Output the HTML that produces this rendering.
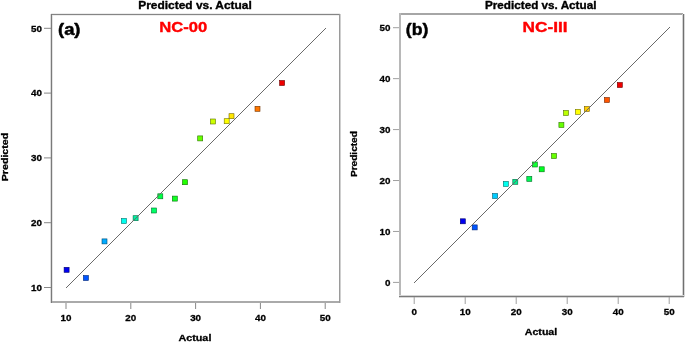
<!DOCTYPE html>
<html><head><meta charset="utf-8"><style>
html,body{margin:0;padding:0;background:#fff;}
body{width:685px;height:342px;overflow:hidden;}
svg{display:block;will-change:transform;}
text{font-family:"Liberation Sans", sans-serif;font-weight:bold;}
.t{font-size:11px;}
.n{font-size:9.8px;fill:#000;stroke:#000;stroke-width:0.3px;}
.a{font-size:10px;}
.lab{font-size:17px;}
.nc{font-size:15px;fill:#ff0000;}
</style></head><body>
<svg width="685" height="342" viewBox="0 0 685 342">
<rect width="685" height="342" fill="#fff"/>
<rect x="51" y="13" width="289" height="1" fill="#ececec"/>
<rect x="51" y="14" width="289" height="1" fill="#858585"/>
<rect x="51" y="15" width="289" height="1" fill="#eeeeee"/>
<rect x="51" y="301" width="290" height="2" fill="#aaaaaa"/>
<rect x="50" y="14" width="1" height="289" fill="#dddddd"/>
<rect x="51" y="14" width="1" height="289" fill="#7a7a7a"/>
<rect x="52" y="15" width="1" height="286" fill="#e4e4e4"/>
<rect x="339" y="14" width="1" height="289" fill="#9a9a9a"/>
<rect x="340" y="14" width="1" height="289" fill="#cfcfcf"/>
<rect x="44" y="287.00" width="7" height="1" fill="#888888"/>
<rect x="65.50" y="303" width="1" height="6" fill="#888888"/>
<text x="42" y="290.80" text-anchor="end" class="n">10</text>
<text x="66.00" y="320.5" text-anchor="middle" class="n">10</text>
<rect x="44" y="222.20" width="7" height="1" fill="#888888"/>
<rect x="130.30" y="303" width="1" height="6" fill="#888888"/>
<text x="42" y="226.00" text-anchor="end" class="n">20</text>
<text x="130.80" y="320.5" text-anchor="middle" class="n">20</text>
<rect x="44" y="157.40" width="7" height="1" fill="#888888"/>
<rect x="195.10" y="303" width="1" height="6" fill="#888888"/>
<text x="42" y="161.20" text-anchor="end" class="n">30</text>
<text x="195.60" y="320.5" text-anchor="middle" class="n">30</text>
<rect x="44" y="92.60" width="7" height="1" fill="#888888"/>
<rect x="259.90" y="303" width="1" height="6" fill="#888888"/>
<text x="42" y="96.40" text-anchor="end" class="n">40</text>
<text x="260.40" y="320.5" text-anchor="middle" class="n">40</text>
<rect x="44" y="27.80" width="7" height="1" fill="#888888"/>
<rect x="324.70" y="303" width="1" height="6" fill="#888888"/>
<text x="42" y="31.60" text-anchor="end" class="n">50</text>
<text x="325.20" y="320.5" text-anchor="middle" class="n">50</text>
<rect x="64.10" y="267.30" width="5.0" height="5.0" fill="#0000f0" stroke="#00006c" stroke-width="0.6"/>
<rect x="83.40" y="275.50" width="5.0" height="5.0" fill="#0055ff" stroke="#002672" stroke-width="0.6"/>
<rect x="102.00" y="238.90" width="5.0" height="5.0" fill="#00aaff" stroke="#004c72" stroke-width="0.6"/>
<rect x="121.40" y="218.50" width="5.0" height="5.0" fill="#00ffee" stroke="#00726b" stroke-width="0.6"/>
<rect x="133.10" y="215.70" width="5.0" height="5.0" fill="#00f0a0" stroke="#006c48" stroke-width="0.6"/>
<rect x="151.50" y="208.00" width="5.0" height="5.0" fill="#00ff66" stroke="#00722d" stroke-width="0.6"/>
<rect x="157.80" y="193.80" width="5.0" height="5.0" fill="#00ff44" stroke="#00721e" stroke-width="0.6"/>
<rect x="172.30" y="196.10" width="5.0" height="5.0" fill="#11ff22" stroke="#07720f" stroke-width="0.6"/>
<rect x="182.50" y="179.70" width="5.0" height="5.0" fill="#22ff00" stroke="#0f7200" stroke-width="0.6"/>
<rect x="197.70" y="135.90" width="5.0" height="5.0" fill="#66ff00" stroke="#2d7200" stroke-width="0.6"/>
<rect x="210.50" y="119.00" width="5.0" height="5.0" fill="#ccff00" stroke="#5b7200" stroke-width="0.6"/>
<rect x="224.20" y="118.70" width="5.0" height="5.0" fill="#ffff00" stroke="#727200" stroke-width="0.6"/>
<rect x="229.00" y="113.70" width="5.0" height="5.0" fill="#ffe600" stroke="#726700" stroke-width="0.6"/>
<rect x="255.00" y="106.30" width="5.0" height="5.0" fill="#ff7700" stroke="#723500" stroke-width="0.6"/>
<rect x="279.60" y="80.50" width="5.0" height="5.0" fill="#ee0000" stroke="#6b0000" stroke-width="0.6"/>
<path d="M66 287h1v1h-1zM67 286h1v1h-1zM68 285h1v1h-1zM69 284h1v1h-1zM70 283h1v1h-1zM71 282h1v1h-1zM72 281h1v1h-1zM73 280h1v1h-1zM74 279h1v1h-1zM75 278h1v1h-1zM76 277h1v1h-1zM77 276h1v1h-1zM78 275h1v1h-1zM79 274h1v1h-1zM80 273h1v1h-1zM81 272h1v1h-1zM82 271h1v1h-1zM83 270h1v1h-1zM84 269h1v1h-1zM85 268h1v1h-1zM86 267h1v1h-1zM87 266h1v1h-1zM88 265h1v1h-1zM89 264h1v1h-1zM90 263h1v1h-1zM91 262h1v1h-1zM92 261h1v1h-1zM93 260h1v1h-1zM94 259h1v1h-1zM95 258h1v1h-1zM96 257h1v1h-1zM97 256h1v1h-1zM98 255h1v1h-1zM99 254h1v1h-1zM100 253h1v1h-1zM101 252h1v1h-1zM102 251h1v1h-1zM103 250h1v1h-1zM104 249h1v1h-1zM105 248h1v1h-1zM106 247h1v1h-1zM107 246h1v1h-1zM108 245h1v1h-1zM109 244h1v1h-1zM110 243h1v1h-1zM111 242h1v1h-1zM112 241h1v1h-1zM113 240h1v1h-1zM114 239h1v1h-1zM115 238h1v1h-1zM116 237h1v1h-1zM117 236h1v1h-1zM118 235h1v1h-1zM119 234h1v1h-1zM120 233h1v1h-1zM121 232h1v1h-1zM122 231h1v1h-1zM123 230h1v1h-1zM124 229h1v1h-1zM125 228h1v1h-1zM126 227h1v1h-1zM127 226h1v1h-1zM128 225h1v1h-1zM129 224h1v1h-1zM130 223h1v1h-1zM131 222h1v1h-1zM132 221h1v1h-1zM133 220h1v1h-1zM134 219h1v1h-1zM135 218h1v1h-1zM136 217h1v1h-1zM137 216h1v1h-1zM138 215h1v1h-1zM139 214h1v1h-1zM140 213h1v1h-1zM141 212h1v1h-1zM142 211h1v1h-1zM143 210h1v1h-1zM144 209h1v1h-1zM145 208h1v1h-1zM146 207h1v1h-1zM147 206h1v1h-1zM148 205h1v1h-1zM149 204h1v1h-1zM150 203h1v1h-1zM151 202h1v1h-1zM152 201h1v1h-1zM153 200h1v1h-1zM154 199h1v1h-1zM155 198h1v1h-1zM156 197h1v1h-1zM157 196h1v1h-1zM158 195h1v1h-1zM159 194h1v1h-1zM160 193h1v1h-1zM161 192h1v1h-1zM162 191h1v1h-1zM163 190h1v1h-1zM164 189h1v1h-1zM165 188h1v1h-1zM166 187h1v1h-1zM167 186h1v1h-1zM168 185h1v1h-1zM169 184h1v1h-1zM170 183h1v1h-1zM171 182h1v1h-1zM172 181h1v1h-1zM173 180h1v1h-1zM174 179h1v1h-1zM175 178h1v1h-1zM176 177h1v1h-1zM177 176h1v1h-1zM178 175h1v1h-1zM179 174h1v1h-1zM180 173h1v1h-1zM181 172h1v1h-1zM182 171h1v1h-1zM183 170h1v1h-1zM184 169h1v1h-1zM185 168h1v1h-1zM186 167h1v1h-1zM187 166h1v1h-1zM188 165h1v1h-1zM189 164h1v1h-1zM190 163h1v1h-1zM191 162h1v1h-1zM192 161h1v1h-1zM193 160h1v1h-1zM194 159h1v1h-1zM195 158h1v1h-1zM196 157h1v1h-1zM197 156h1v1h-1zM198 155h1v1h-1zM199 154h1v1h-1zM200 153h1v1h-1zM201 152h1v1h-1zM202 151h1v1h-1zM203 150h1v1h-1zM204 149h1v1h-1zM205 148h1v1h-1zM206 147h1v1h-1zM207 146h1v1h-1zM208 145h1v1h-1zM209 144h1v1h-1zM210 143h1v1h-1zM211 142h1v1h-1zM212 141h1v1h-1zM213 140h1v1h-1zM214 139h1v1h-1zM215 138h1v1h-1zM216 137h1v1h-1zM217 136h1v1h-1zM218 135h1v1h-1zM219 134h1v1h-1zM220 133h1v1h-1zM221 132h1v1h-1zM222 131h1v1h-1zM223 130h1v1h-1zM224 129h1v1h-1zM225 128h1v1h-1zM226 127h1v1h-1zM227 126h1v1h-1zM228 125h1v1h-1zM229 124h1v1h-1zM230 123h1v1h-1zM231 122h1v1h-1zM232 121h1v1h-1zM233 120h1v1h-1zM234 119h1v1h-1zM235 118h1v1h-1zM236 117h1v1h-1zM237 116h1v1h-1zM238 115h1v1h-1zM239 114h1v1h-1zM240 113h1v1h-1zM241 112h1v1h-1zM242 111h1v1h-1zM243 110h1v1h-1zM244 109h1v1h-1zM245 108h1v1h-1zM246 107h1v1h-1zM247 106h1v1h-1zM248 105h1v1h-1zM249 104h1v1h-1zM250 103h1v1h-1zM251 102h1v1h-1zM252 101h1v1h-1zM253 100h1v1h-1zM254 99h1v1h-1zM255 98h1v1h-1zM256 97h1v1h-1zM257 96h1v1h-1zM258 95h1v1h-1zM259 94h1v1h-1zM260 93h1v1h-1zM261 92h1v1h-1zM262 91h1v1h-1zM263 90h1v1h-1zM264 89h1v1h-1zM265 88h1v1h-1zM266 87h1v1h-1zM267 86h1v1h-1zM268 85h1v1h-1zM269 84h1v1h-1zM270 83h1v1h-1zM271 82h1v1h-1zM272 81h1v1h-1zM273 80h1v1h-1zM274 79h1v1h-1zM275 78h1v1h-1zM276 77h1v1h-1zM277 76h1v1h-1zM278 75h1v1h-1zM279 74h1v1h-1zM280 73h1v1h-1zM281 72h1v1h-1zM282 71h1v1h-1zM283 70h1v1h-1zM284 69h1v1h-1zM285 68h1v1h-1zM286 67h1v1h-1zM287 66h1v1h-1zM288 65h1v1h-1zM289 64h1v1h-1zM290 63h1v1h-1zM291 62h1v1h-1zM292 61h1v1h-1zM293 60h1v1h-1zM294 59h1v1h-1zM295 58h1v1h-1zM296 57h1v1h-1zM297 56h1v1h-1zM298 55h1v1h-1zM299 54h1v1h-1zM300 53h1v1h-1zM301 52h1v1h-1zM302 51h1v1h-1zM303 50h1v1h-1zM304 49h1v1h-1zM305 48h1v1h-1zM306 47h1v1h-1zM307 46h1v1h-1zM308 45h1v1h-1zM309 44h1v1h-1zM310 43h1v1h-1zM311 42h1v1h-1zM312 41h1v1h-1zM313 40h1v1h-1zM314 39h1v1h-1zM315 38h1v1h-1zM316 37h1v1h-1zM317 36h1v1h-1zM318 35h1v1h-1zM319 34h1v1h-1zM320 33h1v1h-1zM321 32h1v1h-1zM322 31h1v1h-1zM323 30h1v1h-1zM324 29h1v1h-1zM325 28h1v1h-1z" fill="#6a6a6a" shape-rendering="crispEdges"/>
<rect x="399" y="13" width="284" height="2" fill="#a6a6a6"/>
<rect x="399" y="13" width="2" height="284" fill="#b8b8b8"/>
<rect x="682" y="14" width="1" height="283" fill="#d4d4d4"/>
<rect x="683" y="14" width="1" height="283" fill="#707070"/>
<rect x="684" y="14" width="1" height="283" fill="#d8d8d8"/>
<rect x="399" y="295" width="285" height="1" fill="#d4d4d4"/>
<rect x="399" y="296" width="285" height="1" fill="#7a7a7a"/>
<rect x="399" y="297" width="285" height="1" fill="#d8d8d8"/>
<rect x="393" y="281.90" width="6" height="1" fill="#a0a0a0"/>
<rect x="413.70" y="297" width="1" height="7" fill="#a0a0a0"/>
<text x="390.5" y="285.70" text-anchor="end" class="n">0</text>
<text x="414.20" y="314.5" text-anchor="middle" class="n">0</text>
<rect x="393" y="230.96" width="6" height="1" fill="#a0a0a0"/>
<rect x="464.70" y="297" width="1" height="7" fill="#a0a0a0"/>
<text x="390.5" y="234.76" text-anchor="end" class="n">10</text>
<text x="465.20" y="314.5" text-anchor="middle" class="n">10</text>
<rect x="393" y="180.02" width="6" height="1" fill="#a0a0a0"/>
<rect x="515.70" y="297" width="1" height="7" fill="#a0a0a0"/>
<text x="390.5" y="183.82" text-anchor="end" class="n">20</text>
<text x="516.20" y="314.5" text-anchor="middle" class="n">20</text>
<rect x="393" y="129.08" width="6" height="1" fill="#a0a0a0"/>
<rect x="566.70" y="297" width="1" height="7" fill="#a0a0a0"/>
<text x="390.5" y="132.88" text-anchor="end" class="n">30</text>
<text x="567.20" y="314.5" text-anchor="middle" class="n">30</text>
<rect x="393" y="78.14" width="6" height="1" fill="#a0a0a0"/>
<rect x="617.70" y="297" width="1" height="7" fill="#a0a0a0"/>
<text x="390.5" y="81.94" text-anchor="end" class="n">40</text>
<text x="618.20" y="314.5" text-anchor="middle" class="n">40</text>
<rect x="393" y="27.20" width="6" height="1" fill="#a0a0a0"/>
<rect x="668.70" y="297" width="1" height="7" fill="#a0a0a0"/>
<text x="390.5" y="31.00" text-anchor="end" class="n">50</text>
<text x="669.20" y="314.5" text-anchor="middle" class="n">50</text>
<rect x="460.30" y="218.80" width="5.0" height="5.0" fill="#0000f0" stroke="#00006c" stroke-width="0.6"/>
<rect x="472.20" y="224.90" width="5.0" height="5.0" fill="#0055ff" stroke="#002672" stroke-width="0.6"/>
<rect x="492.60" y="193.50" width="5.0" height="5.0" fill="#00ccff" stroke="#005b72" stroke-width="0.6"/>
<rect x="503.30" y="181.40" width="5.0" height="5.0" fill="#00ffee" stroke="#00726b" stroke-width="0.6"/>
<rect x="512.80" y="179.30" width="5.0" height="5.0" fill="#00ee90" stroke="#006b40" stroke-width="0.6"/>
<rect x="526.80" y="176.40" width="5.0" height="5.0" fill="#00f855" stroke="#006f26" stroke-width="0.6"/>
<rect x="532.30" y="162.00" width="5.0" height="5.0" fill="#11ff33" stroke="#077216" stroke-width="0.6"/>
<rect x="539.20" y="166.80" width="5.0" height="5.0" fill="#00ff22" stroke="#00720f" stroke-width="0.6"/>
<rect x="551.50" y="153.50" width="5.0" height="5.0" fill="#66ff00" stroke="#2d7200" stroke-width="0.6"/>
<rect x="558.90" y="122.50" width="5.0" height="5.0" fill="#66ff00" stroke="#2d7200" stroke-width="0.6"/>
<rect x="563.50" y="110.50" width="5.0" height="5.0" fill="#bbff00" stroke="#547200" stroke-width="0.6"/>
<rect x="575.40" y="109.30" width="5.0" height="5.0" fill="#ffff00" stroke="#727200" stroke-width="0.6"/>
<rect x="584.30" y="106.50" width="5.0" height="5.0" fill="#ffcc00" stroke="#725b00" stroke-width="0.6"/>
<rect x="604.40" y="97.50" width="5.0" height="5.0" fill="#ff5500" stroke="#722600" stroke-width="0.6"/>
<rect x="617.30" y="82.50" width="5.0" height="5.0" fill="#ee0000" stroke="#6b0000" stroke-width="0.6"/>
<path d="M414 282h1v1h-1zM415 281h1v1h-1zM416 280h1v1h-1zM417 279h1v1h-1zM418 278h1v1h-1zM419 277h1v1h-1zM420 276h1v1h-1zM421 275h1v1h-1zM422 274h1v1h-1zM423 273h1v1h-1zM424 272h1v1h-1zM425 271h1v1h-1zM426 270h1v1h-1zM427 269h1v1h-1zM428 268h1v1h-1zM429 267h1v1h-1zM430 266h1v1h-1zM431 265h1v1h-1zM432 264h1v1h-1zM433 263h1v1h-1zM434 262h1v1h-1zM435 261h1v1h-1zM436 260h1v1h-1zM437 259h1v1h-1zM438 258h1v1h-1zM439 257h1v1h-1zM440 256h1v1h-1zM441 255h1v1h-1zM442 254h1v1h-1zM443 253h1v1h-1zM444 252h1v1h-1zM445 251h1v1h-1zM446 250h1v1h-1zM447 249h1v1h-1zM448 248h1v1h-1zM449 247h1v1h-1zM450 246h1v1h-1zM451 245h1v1h-1zM452 244h1v1h-1zM453 243h1v1h-1zM454 242h1v1h-1zM455 241h1v1h-1zM456 240h1v1h-1zM457 239h1v1h-1zM458 238h1v1h-1zM459 237h1v1h-1zM460 236h1v1h-1zM461 235h1v1h-1zM462 234h1v1h-1zM463 233h1v1h-1zM464 232h1v1h-1zM465 231h1v1h-1zM466 230h1v1h-1zM467 229h1v1h-1zM468 228h1v1h-1zM469 227h1v1h-1zM470 226h1v1h-1zM471 225h1v1h-1zM472 224h1v1h-1zM473 223h1v1h-1zM474 222h1v1h-1zM475 221h1v1h-1zM476 220h1v1h-1zM477 219h1v1h-1zM478 218h1v1h-1zM479 217h1v1h-1zM480 216h1v1h-1zM481 215h1v1h-1zM482 214h1v1h-1zM483 213h1v1h-1zM484 212h1v1h-1zM485 211h1v1h-1zM486 210h1v1h-1zM487 209h1v1h-1zM488 208h1v1h-1zM489 207h1v1h-1zM490 206h1v1h-1zM491 205h1v1h-1zM492 204h1v1h-1zM493 203h1v1h-1zM494 202h1v1h-1zM495 201h1v1h-1zM496 200h1v1h-1zM497 199h1v1h-1zM498 198h1v1h-1zM499 197h1v1h-1zM500 196h1v1h-1zM501 195h1v1h-1zM502 194h1v1h-1zM503 193h1v1h-1zM504 192h1v1h-1zM505 191h1v1h-1zM506 190h1v1h-1zM507 189h1v1h-1zM508 188h1v1h-1zM509 187h1v1h-1zM510 186h1v1h-1zM511 185h1v1h-1zM512 184h1v1h-1zM513 183h1v1h-1zM514 182h1v1h-1zM515 181h1v1h-1zM516 180h1v1h-1zM517 179h1v1h-1zM518 178h1v1h-1zM519 177h1v1h-1zM520 176h1v1h-1zM521 175h1v1h-1zM522 174h1v1h-1zM523 173h1v1h-1zM524 172h1v1h-1zM525 171h1v1h-1zM526 170h1v1h-1zM527 169h1v1h-1zM528 168h1v1h-1zM529 167h1v1h-1zM530 166h1v1h-1zM531 165h1v1h-1zM532 164h1v1h-1zM533 163h1v1h-1zM534 162h1v1h-1zM535 161h1v1h-1zM536 160h1v1h-1zM537 159h1v1h-1zM538 158h1v1h-1zM539 157h1v1h-1zM540 156h1v1h-1zM541 155h1v1h-1zM542 154h1v1h-1zM543 153h1v1h-1zM544 152h1v1h-1zM545 151h1v1h-1zM546 150h1v1h-1zM547 149h1v1h-1zM548 148h1v1h-1zM549 147h1v1h-1zM550 146h1v1h-1zM551 145h1v1h-1zM552 144h1v1h-1zM553 143h1v1h-1zM554 142h1v1h-1zM555 141h1v1h-1zM556 140h1v1h-1zM557 139h1v1h-1zM558 138h1v1h-1zM559 137h1v1h-1zM560 136h1v1h-1zM561 135h1v1h-1zM562 134h1v1h-1zM563 133h1v1h-1zM564 132h1v1h-1zM565 131h1v1h-1zM566 130h1v1h-1zM567 129h1v1h-1zM568 128h1v1h-1zM569 127h1v1h-1zM570 126h1v1h-1zM571 125h1v1h-1zM572 124h1v1h-1zM573 123h1v1h-1zM574 122h1v1h-1zM575 121h1v1h-1zM576 120h1v1h-1zM577 119h1v1h-1zM578 118h1v1h-1zM579 117h1v1h-1zM580 116h1v1h-1zM581 115h1v1h-1zM582 114h1v1h-1zM583 113h1v1h-1zM584 112h1v1h-1zM585 111h1v1h-1zM586 110h1v1h-1zM587 109h1v1h-1zM588 108h1v1h-1zM589 107h1v1h-1zM590 106h1v1h-1zM591 105h1v1h-1zM592 104h1v1h-1zM593 103h1v1h-1zM594 102h1v1h-1zM595 101h1v1h-1zM596 100h1v1h-1zM597 99h1v1h-1zM598 98h1v1h-1zM599 97h1v1h-1zM600 96h1v1h-1zM601 95h1v1h-1zM602 94h1v1h-1zM603 93h1v1h-1zM604 92h1v1h-1zM605 91h1v1h-1zM606 90h1v1h-1zM607 89h1v1h-1zM608 88h1v1h-1zM609 87h1v1h-1zM610 86h1v1h-1zM611 85h1v1h-1zM612 84h1v1h-1zM613 83h1v1h-1zM614 82h1v1h-1zM615 81h1v1h-1zM616 80h1v1h-1zM617 79h1v1h-1zM618 78h1v1h-1zM619 77h1v1h-1zM620 76h1v1h-1zM621 75h1v1h-1zM622 74h1v1h-1zM623 73h1v1h-1zM624 72h1v1h-1zM625 71h1v1h-1zM626 70h1v1h-1zM627 69h1v1h-1zM628 68h1v1h-1zM629 67h1v1h-1zM630 66h1v1h-1zM631 65h1v1h-1zM632 64h1v1h-1zM633 63h1v1h-1zM634 62h1v1h-1zM635 61h1v1h-1zM636 60h1v1h-1zM637 59h1v1h-1zM638 58h1v1h-1zM639 57h1v1h-1zM640 56h1v1h-1zM641 55h1v1h-1zM642 54h1v1h-1zM643 53h1v1h-1zM644 52h1v1h-1zM645 51h1v1h-1zM646 50h1v1h-1zM647 49h1v1h-1zM648 48h1v1h-1zM649 47h1v1h-1zM650 46h1v1h-1zM651 45h1v1h-1zM652 44h1v1h-1zM653 43h1v1h-1zM654 42h1v1h-1zM655 41h1v1h-1zM656 40h1v1h-1zM657 39h1v1h-1zM658 38h1v1h-1zM659 37h1v1h-1zM660 36h1v1h-1zM661 35h1v1h-1zM662 34h1v1h-1zM663 33h1v1h-1zM664 32h1v1h-1zM665 31h1v1h-1zM666 30h1v1h-1zM667 29h1v1h-1zM668 28h1v1h-1zM669 27h1v1h-1z" fill="#6a6a6a" shape-rendering="crispEdges"/>
<text x="195.0" y="9" text-anchor="middle" font-size="11" fill="#000" stroke="#000" stroke-width="0.35" stroke-linejoin="round" textLength="113.5" lengthAdjust="spacingAndGlyphs">Predicted vs. Actual</text>
<text x="540.7" y="9" text-anchor="middle" font-size="11" fill="#000" stroke="#000" stroke-width="0.35" stroke-linejoin="round" textLength="111.5" lengthAdjust="spacingAndGlyphs">Predicted vs. Actual</text>
<text x="58.0" y="34.8" text-anchor="start" font-size="17" fill="#000" stroke="#000" stroke-width="0.5" stroke-linejoin="round" textLength="22.5" lengthAdjust="spacingAndGlyphs">(a)</text>
<text x="159.3" y="32.3" text-anchor="start" font-size="15.5" fill="#ff0000" stroke="#ff0000" stroke-width="0.4" stroke-linejoin="round" textLength="48.0" lengthAdjust="spacingAndGlyphs">NC-00</text>
<text x="405.8" y="34.5" text-anchor="start" font-size="17" fill="#000" stroke="#000" stroke-width="0.5" stroke-linejoin="round" textLength="22.5" lengthAdjust="spacingAndGlyphs">(b)</text>
<text x="522.5" y="32.4" text-anchor="start" font-size="15.5" fill="#ff0000" stroke="#ff0000" stroke-width="0.4" stroke-linejoin="round" textLength="45.0" lengthAdjust="spacingAndGlyphs">NC-III</text>
<text x="194.9" y="341" text-anchor="middle" font-size="9.5" fill="#000" stroke="#000" stroke-width="0.3" stroke-linejoin="round" textLength="33.0" lengthAdjust="spacingAndGlyphs">Actual</text>
<text x="541.0" y="334.7" text-anchor="middle" font-size="9.5" fill="#000" stroke="#000" stroke-width="0.3" stroke-linejoin="round" textLength="32.5" lengthAdjust="spacingAndGlyphs">Actual</text>
<text transform="translate(7.9,157.0) rotate(-90)" text-anchor="middle" font-size="9.3" fill="#000" stroke="#000" stroke-width="0.3" stroke-linejoin="round" textLength="48.5" lengthAdjust="spacingAndGlyphs">Predicted</text>
<text transform="translate(356.8,154.1) rotate(-90)" text-anchor="middle" font-size="9.3" fill="#000" stroke="#000" stroke-width="0.3" stroke-linejoin="round" textLength="46.0" lengthAdjust="spacingAndGlyphs">Predicted</text>
</svg>
</body></html>
